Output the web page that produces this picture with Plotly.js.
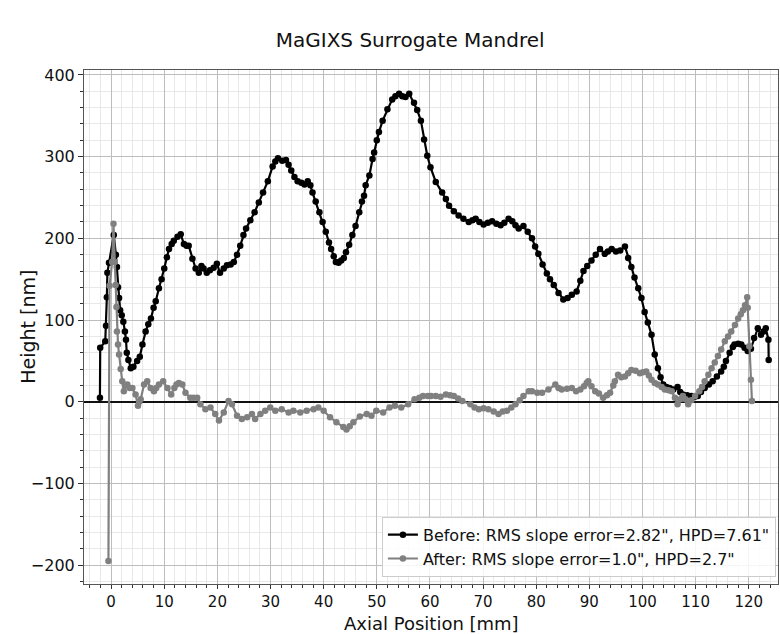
<!DOCTYPE html>
<html>
<head>
<meta charset="utf-8">
<script src="https://cdn.plot.ly/plotly-3.0.1.min.js"></script>
<style>html,body{margin:0;padding:0;background:#fff;}#chart{width:780px;height:634px;}</style>
</head>
<body>
<div id="chart"></div>
<script>
const beforeX = [-2.1,-2.05,-1.1,-0.95,-0.8,-0.7,-0.4,0.5,0.9,1.1,1.3,1.5,1.7,2.0,2.3,2.6,2.8,2.95,3.25,3.7,4.2,4.9,5.4,5.9,6.5,7.0,7.5,8.0,8.4,9.0,9.5,10.0,10.5,10.9,11.4,11.8,12.5,13.1,13.7,14.2,14.6,15.3,15.9,16.5,17.0,17.4,18.0,18.6,19.3,19.9,20.5,21.2,21.8,22.5,23.1,23.7,24.3,24.9,25.4,26.2,27.0,27.8,28.6,29.5,30.4,30.9,31.4,32.2,32.9,33.4,33.9,34.5,35.1,35.8,36.4,37.0,37.5,37.9,38.5,39.2,39.8,40.4,41.0,41.4,41.9,42.3,42.8,43.3,43.8,44.2,44.8,45.4,46.0,46.7,47.2,47.6,47.9,48.6,49.2,49.5,50.0,50.4,51.1,52.0,52.9,53.5,54.2,54.8,55.4,56.1,57.0,57.6,58.3,58.9,59.5,60.1,61.1,62.3,63.0,63.6,64.5,65.4,66.3,67.3,68.0,68.6,69.3,70.1,70.9,71.7,72.5,73.3,74.0,74.8,75.5,76.1,76.7,77.6,78.4,79.2,79.8,80.4,81.2,82.0,82.6,83.3,84.2,85.1,85.9,86.7,87.6,88.3,88.9,89.6,90.4,91.2,92.0,92.9,93.5,94.2,95.0,95.8,96.7,97.3,97.9,98.5,99.2,99.8,100.4,101.0,101.7,102.3,102.9,103.4,103.9,104.5,105.1,105.8,106.6,107.1,107.6,108.4,109.2,109.8,110.4,111.0,111.7,112.5,113.2,114.0,114.8,115.3,115.7,116.4,117.0,117.3,118.0,118.6,119.2,119.8,120.4,121.0,121.7,122.3,122.8,123.2,123.7,123.75];
const beforeY = [4.9,66,74,93,128,158,170,204,180,165,140,127,112,106,98,86,76,60,51,41,43,50,55,70,86,95,102,115,123,139,150,163,177,187,193,197,202,205,193,191,191,175,163,158,166,163,158,161,164,169,158,163,167,168,171,180,191,204,212,222,232,244,256,270,288,294,298,295,296,290,283,275,270,268,266,270,265,256,245,232,220,208,195,187,178,171,170,173,176,183,192,204,215,232,245,252,265,277,297,305,320,330,344,358,370,374,377,374,373,377,366,357,344,321,301,287,269,256,248,240,233,228,224,220,222,224,220,217,219,221,218,216,219,224,221,216,212,215,208,200,190,181,168,157,150,143,133,125,127,131,135,148,160,166,173,180,187,181,184,187,184,185,190,176,165,152,139,127,110,97,82,58,41,30,21,18,17,15,18,12,9,8,7,6,7,12,17,21,25,31,37,43,50,60,67,70,71,70,66,62,65,78,90,82,86,90,76,51];

const afterX = [-0.5,-0.3,0.2,0.45,0.7,0.85,1.0,1.1,1.3,1.5,1.8,2.1,2.4,2.7,3.05,3.5,4.0,4.6,5.06,5.3,5.56,6.2,6.8,7.44,8.06,8.5,9.0,9.8,10.6,11.3,11.9,12.3,12.75,13.4,14.0,14.9,15.5,16.2,16.8,17.75,18.7,19.6,20.3,21.2,22.1,22.75,23.7,24.6,25.6,26.5,27.1,28.1,29.0,29.95,30.9,32.1,33.4,34.3,35.6,36.8,38.1,39.0,40.0,41.2,42.4,43.7,44.3,44.9,45.6,46.8,48.1,49.0,49.9,51.2,52.4,53.4,54.6,55.9,57.1,58.0,58.7,59.6,60.2,61.1,62.0,63.0,63.8,64.5,65.3,66.1,67.6,68.4,69.2,70.1,71.0,72.0,72.9,73.7,74.5,75.3,76.1,76.9,77.6,78.6,79.2,80.2,81.1,82.3,83.6,84.2,84.8,85.8,86.7,87.5,88.3,89.0,89.5,89.8,90.4,91.1,91.8,92.6,93.3,93.9,94.5,94.8,95.4,96.0,96.7,97.3,97.9,98.7,99.5,100.1,100.7,101.2,101.7,102.3,102.9,103.6,104.2,104.9,105.5,106.1,106.6,107.1,107.6,108.1,108.6,109.2,109.9,110.7,111.2,111.7,112.4,113.0,113.6,114.2,114.8,115.5,116.1,116.7,117.4,118.0,118.5,118.9,119.3,119.7,119.8,120.1,120.4,120.6];
const afterY = [-195,142,171,218,171,143,116,86,70,58,40,25,13,20,21,17,17,9,-5,0,3,21,25,17,13,17,21,25,17,9,17,21,23,21,11,5,5,5,-3,-9,-7,-15,-23,-13,1,-3,-17,-21,-19,-15,-21,-15,-11,-7,-11,-9,-13,-11,-13,-11,-9,-7,-11,-19,-25,-31,-34,-30,-25,-18,-15,-17,-11,-13,-7,-5,-7,-3,3,5,7,7,7,7,6,9,8,7,4,1,-3,-7,-9,-8,-9,-12,-15,-12,-11,-7,-3,2,7,13,13,11,11,15,21,17,15,16,17,13,15,19,23,25,19,13,10,5,8,11,20,25,33,30,31,35,39,38,35,36,37,32,27,23,21,18,15,14,13,5,-3,3,7,3,-3,2,7,13,18,25,33,41,48,56,64,74,80,86,94,102,107,112,118,128,115,68,27,1];

const seriesNames = ['Before: RMS slope error=2.82", HPD=7.61"', 'After: RMS slope error=1.0", HPD=2.7"'];
const xTickVals = [0,10,20,30,40,50,60,70,80,90,100,110,120];
const yTickVals = [-200,-100,0,100,200,300,400];
const xTitle = 'Axial Position [mm]';
const yTitle = 'Height [nm]';

const FONT = 'DejaVu Sans, Liberation Sans, sans-serif';

const traces = [
  {x: beforeX, y: beforeY, name: seriesNames[0], type: 'scatter', mode: 'lines+markers',
   line: {color: '#000000', width: 2.2}, marker: {color: '#000000', size: 6.5}},
  {x: afterX, y: afterY, name: seriesNames[1], type: 'scatter', mode: 'lines+markers',
   line: {color: '#808080', width: 2.2}, marker: {color: '#808080', size: 6.5}}
];

const axisCommon = {
  showline: true, linecolor: '#555', linewidth: 1, mirror: true,
  ticks: 'outside', ticklen: 5, tickwidth: 1, tickcolor: '#333',
  showgrid: true, gridcolor: '#bdbdbd', gridwidth: 1,
  tickfont: {family: FONT, size: 16, color: '#111'},
};

const layout = {
  width: 780, height: 634,
  paper_bgcolor: '#fff', plot_bgcolor: '#fff',
  margin: {l: 84, r: 2, t: 70, b: 50},
  showlegend: true,
  title: {text: 'MaGIXS Surrogate Mandrel', font: {family: FONT, size: 20, color: '#111'},
          x: 0.47, xref: 'paper', xanchor: 'center', y: 0.937, yref: 'container', yanchor: 'middle'},
  xaxis: Object.assign({}, axisCommon, {
    range: [-5.1, 125.5], tickvals: xTickVals, zeroline: false, ticklen: 4,
    tickfont: {family: FONT, size: 15, color: '#111'},
    minor: {dtick: 2, ticklen: 3, tickcolor: '#333', showgrid: true, gridcolor: '#e8e8e8', gridwidth: 1}
  }),
  yaxis: Object.assign({}, axisCommon, {
    range: [-223, 406], tickvals: yTickVals, zeroline: true, zerolinecolor: '#111', zerolinewidth: 2,
    minor: {dtick: 20, ticklen: 3, tickcolor: '#333', showgrid: true, gridcolor: '#e8e8e8', gridwidth: 1}
  }),
  annotations: [
    {text: xTitle, xref: 'paper', yref: 'paper', x: 0.5, y: -0.0759, xanchor: 'center', yanchor: 'middle',
     showarrow: false, font: {family: FONT, size: 18, color: '#111'}},
    {text: yTitle, xref: 'paper', yref: 'paper', x: -0.081, y: 0.5, xanchor: 'center', yanchor: 'middle',
     textangle: -90, showarrow: false, font: {family: FONT, size: 19, color: '#111'}}
  ],
  legend: {x: 0.997, xanchor: 'right', y: 0.014, yanchor: 'bottom',
           bgcolor: 'rgba(255,255,255,0.85)', bordercolor: '#cccccc', borderwidth: 1,
           font: {family: FONT, size: 16, color: '#111'}, tracegroupgap: 2}
};

Plotly.newPlot('chart', traces, layout, {displayModeBar: false, staticPlot: true});
</script>
</body>
</html>
